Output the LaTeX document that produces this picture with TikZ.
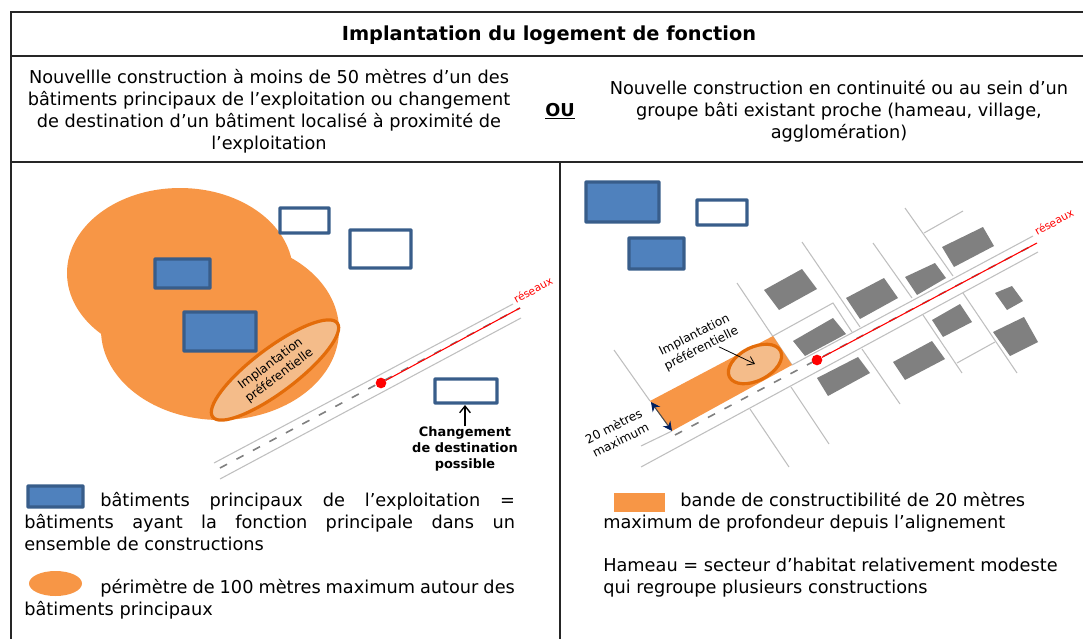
\documentclass[tikz,border=0pt]{standalone}
\usepackage{fontspec}
\setmainfont{DejaVu Sans}
\usepackage{tikz}
\usetikzlibrary{shapes.geometric,arrows.meta}
\definecolor{orangezone}{HTML}{F79646}
\definecolor{orangepale}{HTML}{F4BC8A}
\definecolor{orangedark}{HTML}{E36C0A}
\definecolor{bluebat}{HTML}{4F81BD}
\definecolor{blueline}{HTML}{385D8A}
\definecolor{navytip}{HTML}{002060}
\definecolor{greybat}{HTML}{808080}
\definecolor{greyroad}{HTML}{BFBFBF}
\tikzset{
  frameline/.style={line width=1.5pt,draw=black!85},
  batmain/.style={fill=bluebat,draw=blueline,line width=2.6pt,rounded corners=0.5pt},
  batfree/.style={fill=white,draw=blueline,line width=2.6pt,rounded corners=0.5pt},
  batgrey/.style={fill=greybat},
  roadline/.style={draw=greyroad,line width=0.8pt},
  roaddash/.style={draw=greybat,line width=1.2pt,dash pattern=on 6pt off 8pt},
  redline/.style={draw=red,line width=0.8pt},
  bodytext/.style={font=\fontsize{13.3}{16.5}\selectfont,align=center,inner sep=0pt},
  linetext/.style={font=\fontsize{13.3}{16.5}\selectfont,anchor=base west,inner sep=0pt},
  smalltext/.style={font=\fontsize{9.1}{11.5}\selectfont,align=center,inner sep=0pt},
  preftext/.style={shape=ellipse,fill=orangepale,draw=orangedark,line width=2.4pt,inner sep=0pt,align=center,font=\fontsize{9.1}{11}\selectfont}
}
\begin{document}
\begin{tikzpicture}[x=0.75pt,y=-0.75pt]
\useasboundingbox (0,0) rectangle (1083,639);
% cadre
\draw [frameline] (11,639) -- (11,12) -- (1083,12);
\draw [frameline] (11,56) -- (1083,56);
\draw [frameline] (11,162) -- (1083,162);
\draw [frameline] (560,162) -- (560,639);
% en-tete
\node (title) at (549,35.5) [bodytext,font=\fontsize{14.5}{16.5}\selectfont\bfseries] {Implantation du logement de fonction};
\node (leftcase) at (269,111.5) [bodytext] {Nouvellle construction à moins de 50 mètres d’un des\\bâtiments principaux de l’exploitation ou changement\\de destination d’un bâtiment localisé à proximité de\\l’exploitation};
\node (orword) at (560,111) [bodytext,font=\fontsize{13.3}{16.5}\selectfont\bfseries] {\underline{OU}};
\node (rightcase) at (839,111.5) [bodytext] {Nouvelle construction en continuité ou au sein d’un\\groupe bâti existant proche (hameau, village,\\agglomération)};
% panneau gauche
\fill [orangezone] (180,273) ellipse (113 and 85);
\fill [orangezone] (220,330) ellipse (119 and 90);
\draw [batfree] (280,208) rectangle (329,233);
\draw [batfree] (350,230) rectangle (411,268);
\draw [batmain] (155,259) rectangle (210,288);
\draw [batmain] (184,312) rectangle (256,351);
\node (prefleft) at (275,370) [preftext,rotate=37,minimum width=117pt,minimum height=33pt] {Implantation\\préférentielle};
\draw [roadline] (214,463) -- (513,304);
\draw [roadline] (220,479) -- (521,318);
\draw [roaddash] (220,468) -- (520,308);
\coordinate (netleft) at (520,308);
\node (dotleft) at (381,383) [circle,fill=red,minimum size=8pt,inner sep=0pt] {};
\draw [redline] (dotleft) -- (netleft);
\node (netlabelleft) at (533,290) [smalltext,font=\fontsize{8}{10}\selectfont,text=red,rotate=29] {réseaux};
\draw [batfree] (435,379) rectangle (497,403);
\coordinate (boxbottom) at (465,405);
\node (changetext) at (465,449) [smalltext,font=\fontsize{9.7}{12}\selectfont\bfseries] {Changement\\de destination\\possible};
\draw [-{Straight Barb[length=5pt,width=8pt]},line width=1pt] (changetext) -- (boxbottom);
% legende gauche
\draw [batmain] (28,486) rectangle (83,507);
\node (legone) at (100,506) [linetext] {\makebox[311pt][s]{bâtiments principaux de l’exploitation =}};
\node (legtwo) at (24,528) [linetext] {\makebox[368pt][s]{bâtiments ayant la fonction principale dans un}};
\node (legthree) at (24,550) [linetext] {ensemble de constructions};
\fill [orangezone] (55.5,583.5) ellipse (26.5 and 12.5);
\node (legfour) at (100,593) [linetext] {\makebox[311pt][s]{périmètre de 100 mètres maximum autour des}};
\node (legfive) at (24,615) [linetext] {bâtiments principaux};
% panneau droit
\draw [batmain] (586,182) rectangle (659,222);
\draw [batfree] (697,200) rectangle (747,225);
\draw [batmain] (629,238) rectangle (684,269);
\draw [roadline] (614,350) -- (650,401);
\draw [roadline] (641,446) -- (672,431);
\draw [roadline] (792,365) -- (1033,236);
\draw [roadline] (641,467) -- (1038,252);
\draw [roadline] (773,336) -- (833,303) -- (852,332);
\draw [roadline] (737,283) -- (792,365);
\draw [roadline] (802,242) -- (860,327);
\draw [roadline] (873,243) -- (912,298);
\draw [roadline] (905,208) -- (953,276);
\draw [roadline] (924,233) -- (963,211);
\draw [roadline] (750,409) -- (789,467);
\draw [roadline] (791,387) -- (829,444);
\draw [roadline] (862,349) -- (900,404);
\draw [roadline] (923,315) -- (962,373);
\draw [roadline] (963,293) -- (1017,373);
\draw [roadline] (957,363) -- (995,342);
\fill [orangezone] (650,401) -- (773,336) -- (792,365) -- (672,431) -- cycle;
\draw [batgrey,draw=none] (764,290) -- (802,269) -- (817,289) -- (779,310) -- cycle;
\draw [batgrey,draw=none] (793,341) -- (833,318) -- (846,334) -- (805,356) -- cycle;
\draw [batgrey,draw=none] (817,378) -- (858,357) -- (870,373) -- (828,396) -- cycle;
\draw [batgrey,draw=none] (846,298) -- (884,278) -- (898,298) -- (860,319) -- cycle;
\draw [batgrey,draw=none] (893,362) -- (932,341) -- (945,359) -- (905,380) -- cycle;
\draw [batgrey,draw=none] (905,277) -- (935,263) -- (946,278) -- (917,295) -- cycle;
\draw [batgrey,draw=none] (942,247) -- (983,227) -- (994,246) -- (954,267) -- cycle;
\draw [batgrey,draw=none] (932,320) -- (960,304) -- (972,322) -- (943,337) -- cycle;
\draw [batgrey,draw=none] (995,293) -- (1012,286) -- (1023,301) -- (1007,310) -- cycle;
\draw [batgrey,draw=none] (993,332) -- (1024,317) -- (1038,342) -- (1010,356) -- cycle;
\draw [roaddash] (675,435) -- (1037,243);
\coordinate (netright) at (1037,243);
\node (dotright) at (817,360) [circle,fill=red,minimum size=8pt,inner sep=0pt] {};
\draw [redline] (dotright) -- (netright);
\node (netlabelright) at (1054,222) [smalltext,font=\fontsize{8}{10}\selectfont,text=red,rotate=29] {réseaux};
\node (prefright) at (755,364) [ellipse,fill=orangepale,draw=orangedark,line width=2.4pt,rotate=27,minimum width=43pt,minimum height=25pt,inner sep=0pt] {};
\node (preflabel) at (698,342) [smalltext,rotate=27] {Implantation\\préférentielle};
\draw [-{Straight Barb[length=5pt,width=7pt]},line width=0.6pt] (preflabel.-40) -- (prefright.center);
\coordinate (bandtop) at (651,402);
\coordinate (bandbottom) at (672,431);
\draw [{Stealth[length=7pt,width=7pt,color=navytip]}-{Stealth[length=7pt,width=7pt,color=navytip]},line width=0.8pt,draw=black!70] (bandtop) -- (bandbottom);
\node (bandlabel) at (617,433) [smalltext,rotate=27] {20 mètres\\maximum};
% legende droite
\fill [orangezone] (614,493) rectangle (665,512);
\node (legsix) at (680,506) [linetext] {bande de constructibilité de 20 mètres};
\node (legseven) at (603,528) [linetext] {maximum de profondeur depuis l’alignement};
\node (legeight) at (603,571) [linetext] {Hameau = secteur d’habitat relativement modeste};
\node (legnine) at (603,593) [linetext] {qui regroupe plusieurs constructions};
\end{tikzpicture}
\end{document}
